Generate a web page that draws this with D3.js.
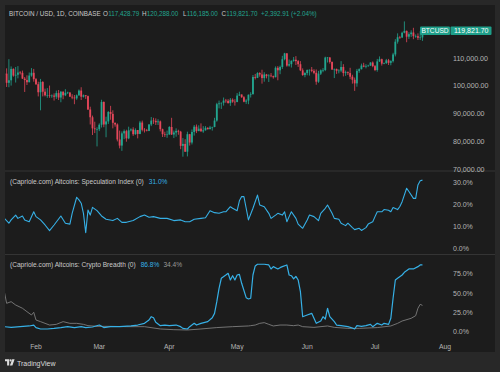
<!DOCTYPE html>
<html><head><meta charset="utf-8">
<script src="https://cdn.jsdelivr.net/npm/d3@7"></script>
<style>
html,body{margin:0;padding:0;background:#282828;}
svg{display:block;font-family:"Liberation Sans",Arial,sans-serif;}
</style>
</head><body>
<svg id="c" width="500" height="372"></svg>
<script>
// ---------- DATA (BTC/USD daily, in thousands USD) ----------
const firstCandleDate = "2025-01-18";
const opens = [
104.1,104.4,101.1,102.0,106.1,103.7,104.0,104.8,104.7,102.6,102.1,101.3,103.7,104.7,
102.4,100.6,97.7,101.4,97.9,96.6,96.6,96.5,96.5,96.1,97.4,95.8,97.9,96.6,97.5,97.6,96.1,95.8,95.5,96.6,98.3,96.1,96.6,96.3,91.5,88.7,84.7,84.4,
84.4,86.0,94.2,86.1,87.2,90.6,89.9,86.7,86.1,80.7,78.5,82.9,83.7,81.1,84.0,84.3,82.6,84.1,82.7,86.8,84.2,84.0,83.8,86.1,87.5,87.4,86.9,87.2,84.4,82.6,82.4,
82.5,85.2,82.5,83.2,83.8,83.5,78.4,79.1,76.3,82.6,79.6,83.4,85.3,83.7,84.6,83.6,84.0,84.9,84.4,85.0,85.2,87.5,93.4,93.7,93.9,94.7,94.6,93.8,95.0,94.3,
94.2,96.5,96.9,95.9,94.3,94.7,96.8,97.0,103.2,102.9,104.6,104.1,102.8,104.1,103.5,103.7,103.5,103.1,106.5,105.6,106.8,109.6,111.7,107.3,107.8,109.0,109.4,108.9,107.8,105.6,103.9,
104.6,105.7,105.8,105.4,104.7,101.5,104.4,105.6,105.7,110.2,110.2,108.6,105.9,106.1,105.4,105.5,106.8,104.6,104.9,104.6,103.3,102.2,100.9,105.4,106.0,107.3,106.9,107.1,107.3,108.4,
107.1,105.7,108.8,109.6,108.0,108.2,109.2,108.3,108.9,111.3,115.9,117.5,117.4,119.1,119.8,117.7,118.6,119.2,117.9,117.9,117.3,117.43];
const highs = [
104.9,106.3,109.6,107.0,106.3,106.8,107.1,105.3,105.5,103.2,103.8,104.8,106.4,106.1,
102.8,101.5,102.5,101.7,99.0,99.2,100.1,96.9,97.3,98.3,98.5,98.1,98.0,98.8,97.9,97.7,97.0,96.7,96.9,98.7,99.5,96.9,96.7,96.5,92.5,89.3,87.1,85.1,
86.5,95.0,94.4,88.9,90.9,92.8,91.2,86.8,86.5,83.9,83.6,84.3,84.2,85.3,84.7,85.1,84.7,84.1,87.4,87.5,84.8,84.5,86.2,88.8,88.5,88.3,88.0,87.5,84.6,83.5,83.9,
85.5,88.5,83.9,84.7,84.2,83.8,81.2,80.8,83.5,82.7,84.3,85.9,86.1,85.8,86.5,85.5,85.5,85.1,85.6,85.3,88.5,93.9,94.7,94.0,95.8,95.3,95.2,95.6,95.5,95.2,
97.4,97.9,96.9,96.3,95.2,96.9,97.7,103.9,104.3,104.9,104.9,105.8,104.9,104.3,104.2,104.6,103.7,107.0,107.1,107.3,110.8,111.9,111.8,109.5,109.2,110.4,110.7,109.3,108.9,106.3,104.9,
105.9,105.9,106.8,106.0,105.9,105.4,105.9,106.4,110.5,110.4,110.4,108.8,106.2,106.2,106.0,108.9,107.8,105.5,105.2,106.5,104.0,103.0,106.1,106.3,108.0,108.3,107.8,107.6,108.5,108.8,
107.5,109.7,110.6,109.8,108.4,109.7,109.7,109.2,111.9,116.8,118.9,118.0,119.5,123.2,119.9,119.3,120.0,120.9,118.5,118.9,119.7,120.288];
const lows = [
102.3,99.6,99.5,100.1,103.3,101.2,102.7,104.1,102.5,97.8,100.3,101.3,103.3,101.5,
100.3,96.2,91.2,96.2,96.2,95.7,95.7,95.7,94.7,95.3,94.9,94.1,95.2,96.3,97.1,96.1,95.2,93.4,95.0,96.4,94.9,95.8,95.3,91.3,86.1,82.3,83.0,78.2,
83.7,85.0,85.1,81.5,86.3,87.8,84.7,85.3,80.0,77.5,76.6,80.8,79.9,80.8,83.6,82.0,82.4,81.1,82.6,83.6,83.2,83.6,83.7,85.5,86.3,85.9,85.9,83.6,81.6,81.6,81.3,
82.4,82.3,81.2,81.7,82.4,77.2,74.5,76.2,74.6,78.5,78.9,82.1,83.0,83.7,83.6,83.1,83.9,84.3,84.4,83.9,85.1,87.1,91.9,91.7,92.9,93.9,93.6,92.8,93.9,92.9,
94.1,96.4,95.7,94.1,93.5,93.4,95.8,96.9,102.3,102.8,103.3,100.8,101.5,102.7,101.4,103.1,102.6,103.1,102.0,104.2,106.1,109.2,106.9,106.9,106.6,108.7,107.5,106.8,105.3,103.6,103.1,
103.8,103.7,104.9,104.2,100.4,101.1,103.9,104.9,105.3,108.4,108.0,105.7,102.8,104.3,104.5,104.9,103.4,103.6,103.9,102.4,100.8,98.2,99.7,104.7,105.9,106.7,106.3,106.9,107.2,106.7,
105.3,105.1,108.6,107.3,107.8,107.9,107.5,107.4,108.4,110.6,115.2,116.9,117.3,118.9,115.7,116.9,117.6,116.8,117.3,116.5,116.5,116.185];
const closes = [
104.4,101.1,102.0,106.1,103.7,104.0,104.8,104.7,102.6,102.1,101.3,103.7,104.7,102.4,
100.6,97.7,101.4,97.9,96.6,96.6,96.5,96.5,96.1,97.4,95.8,97.9,96.6,97.5,97.6,96.1,95.8,95.5,96.6,98.3,96.1,96.6,96.3,91.5,88.7,84.7,84.4,84.4,
86.0,94.2,86.1,87.2,90.6,89.9,86.7,86.1,80.7,78.5,82.9,83.7,81.1,84.0,84.3,82.6,84.1,82.7,86.8,84.2,84.0,83.8,86.1,87.5,87.4,86.9,87.2,84.4,82.6,82.4,82.5,
85.2,82.5,83.2,83.8,83.5,78.4,79.1,76.3,82.6,79.6,83.4,85.3,83.7,84.6,83.6,84.0,84.9,84.4,85.0,85.2,87.5,93.4,93.7,93.9,94.7,94.6,93.8,95.0,94.3,94.2,
96.5,96.9,95.9,94.3,94.7,96.8,97.0,103.2,102.9,104.6,104.1,102.8,104.1,103.5,103.7,103.5,103.1,106.5,105.6,106.8,109.6,111.7,107.3,107.8,109.0,109.4,108.9,107.8,105.6,103.9,104.6,
105.7,105.8,105.4,104.7,101.5,104.4,105.6,105.7,110.2,110.2,108.6,105.9,106.1,105.4,105.5,106.8,104.6,104.9,104.6,103.3,102.2,100.9,105.4,106.0,107.3,106.9,107.1,107.3,108.4,107.1,
105.7,108.8,109.6,108.0,108.2,109.2,108.3,108.9,111.3,115.9,117.5,117.4,119.1,119.8,117.7,118.6,119.2,117.9,117.9,117.3,117.43,119.8217];

// Speculation Index (% ; day-of-year 2025, Jan 1 = 0)
const specDays = [17,19,20,22,23,25,26,28,30,31,33,35,37,39,42,44,46,47,49,50,51,52,53,54,55,56,58,60,62,65,67,69,71,74,77,79,81,83,86,89,92,95,97,99,101,104,106,108,110,112,114,115,117,118,120,121,122,123,124,125,127,129,130,132,134,135,137,138,140,141,142,143,144,146,147,149,151,152,154,156,157,159,160,162,163,165,166,168,169,171,172,174,175,177,178,180,181,182,184,185,187,188,189,191,192,193,195,196,198,199,200,201,202];
const specValues = [13.6,11.4,12.9,15.1,13.6,14.7,12.9,12.1,16.6,14.4,12.9,10.6,8.0,10.6,14.7,11.4,11.0,15.9,23.2,22.0,20.5,15.9,7.1,17.4,15.1,18.6,17.1,14.7,13.2,12.6,13.6,11.8,11.8,12.6,14.4,15.1,14.1,14.4,13.6,13.6,12.6,12.9,12.1,12.1,13.2,13.6,13.9,17.1,16.2,15.9,16.6,16.6,18.9,18.2,17.1,21.6,23.5,23.5,18.2,12.9,18.2,24.2,19.7,18.9,15.9,13.6,15.1,15.9,15.1,16.6,12.1,14.4,16.6,13.6,11.0,9.1,12.9,15.1,14.4,12.6,15.9,18.2,19.7,15.9,13.6,13.2,11.4,10.3,11.4,9.4,8.5,9.1,8.1,9.4,11.0,12.1,14.4,16.6,16.6,17.6,17.3,16.6,18.5,17.6,19.0,21.2,27.3,25.8,22.7,22.7,28.8,30.7,31.0];

// Crypto Breadth (%), main series
const breadthDays = [17,20,24,28,30,31,33,36,39,42,45,48,51,53,56,59,61,64,68,73,76,79,81,82,83,84,86,88,90,93,95,96,98,99,101,102,104,107,109,110,111,112,113,115,116,117,118,119,120,121,122,124,125,126,127,128,129,132,134,135,136,138,139,140,142,143,144,145,146,147,148,149,151,153,154,155,157,158,159,160,161,163,164,166,169,171,172,173,175,177,179,180,181,182,184,185,187,188,189,190,191,193,194,196,198,200,201,202];
const breadthValues = [6.9,6.0,6.9,7.8,9.0,5.7,3.9,3.9,4.7,5.7,6.9,5.7,6.9,5.7,6.5,9.0,5.7,6.9,6.9,7.8,9.0,11.2,15.5,19.8,18.5,12.5,8.2,9.0,8.2,9.0,6.9,4.7,3.9,6.9,11.2,9.0,11.2,13.4,18.5,24.1,39.2,56.5,69.5,73.7,75.9,67.3,72.8,67.3,73.7,74.6,63.0,44.4,42.7,43.6,73.7,85.4,87.6,87.6,86.7,81.5,84.5,81.5,83.2,84.5,86.7,73.7,72.8,68.6,71.9,67.3,52.1,19.8,22.0,24.1,17.7,11.2,14.2,19.8,16.8,30.7,19.8,13.4,9.0,8.2,6.9,5.2,3.9,8.2,7.3,8.2,9.9,6.9,9.0,11.2,9.0,11.2,9.9,17.7,43.6,67.3,69.5,73.7,77.2,81.5,81.5,84.5,86.7,86.8];

// Crypto Breadth (%), second (gray) series
const breadth2Days = [17,18,20,22,25,27,29,30,31,33,35,37,40,43,46,49,52,54,58,64,71,79,86,92,98,104,111,118,125,126,128,130,132,134,136,139,142,145,147,149,154,160,163,169,174,182,188,191,193,197,199,200,201,202];
const breadth2Values = [52.1,37.1,39.2,34.9,30.7,26.3,22.0,25.5,15.5,13.4,11.2,9.0,9.9,13.4,11.2,11.2,9.9,8.2,7.3,7.3,6.9,6.9,3.9,3.0,2.6,3.9,5.7,6.9,7.8,8.2,9.0,11.2,12.1,9.9,7.8,9.0,9.0,8.2,9.0,6.9,6.0,7.8,6.0,4.7,4.7,5.7,7.8,11.2,14.2,17.7,21.1,30.7,35.8,34.4];

const priceTicks = [70, 80, 90, 100, 110];
const specTicks = [0, 10, 20, 30];
const breadthTicks = [0, 25, 50, 75];
const monthTicks = ["2025-02-01","2025-03-01","2025-04-01","2025-05-01","2025-06-01","2025-07-01","2025-08-01"];

const headerTitle = "BITCOIN / USD, 1D, COINBASE";
const headerOHLC = [["O","117,428.79"],["H","120,288.00"],["L","116,185.00"],["C","119,821.70"]];
const headerChange = "+2,392.91 (+2.04%)";
const symbolLabel = "BTCUSD";
const lastPriceLabel = "119,821.70";
const specTitle = "(Capriole.com) Altcoins: Speculation Index (0)";
const specLast = "31.0%";
const breadthTitle = "(Capriole.com) Altcoins: Crypto Breadth (0)";
const breadthLast = "86.8%";
const breadth2Last = "34.4%";

// ---------- DRAWING ----------
const UP = "#22a58f", DOWN = "#e5475a", BLUE = "#36b0e6", GRAY = "#7d7d7d";
const TXT = "#c9c9c9", AX = "#b4b4b4";
const svg = d3.select("#c");
const parse = d3.utcParse("%Y-%m-%d");
const jan1 = parse("2025-01-01");
const dayDate = d => d3.utcDay.offset(jan1, d);

svg.append("rect").attr("width",500).attr("height",372).attr("fill","#282828");
svg.append("rect").attr("x",5).attr("y",5).attr("width",490).attr("height",347).attr("fill","#1c1c1c");

const x = d3.scaleUtc().domain([jan1, parse("2025-08-01")]).range([-34.06, 445.06]);
const yP = d3.scaleLinear().domain([70, 120]).range([169.2, 30.3]);
const yS = d3.scaleLinear().domain([0, 30]).range([248.3, 182.3]);
const yB = d3.scaleLinear().domain([0, 75]).range([332, 274]);

const defs = svg.append("defs");
defs.append("clipPath").attr("id","cp1").append("rect").attr("x",5).attr("y",5).attr("width",448).attr("height",166);
defs.append("clipPath").attr("id","cp2").append("rect").attr("x",5).attr("y",172).attr("width",448).attr("height",82);
defs.append("clipPath").attr("id","cp3").append("rect").attr("x",5).attr("y",255).attr("width",448).attr("height",80);

// pane separators
[171, 254.5].forEach(yy => svg.append("line").attr("x1",5).attr("x2",495).attr("y1",yy).attr("y2",yy)
  .attr("stroke","#343434").attr("stroke-width",1));

// candles
const start = parse(firstCandleDate);
const candles = closes.map((c,i)=>({date:d3.utcDay.offset(start,i), o:opens[i], h:highs[i], l:lows[i], c}));
const g1 = svg.append("g").attr("clip-path","url(#cp1)");
const cg = g1.selectAll("g.c").data(candles).join("g");
cg.append("line")
  .attr("x1",d=>x(d.date)).attr("x2",d=>x(d.date))
  .attr("y1",d=>yP(d.h)).attr("y2",d=>yP(d.l))
  .attr("stroke",d=>d.c>=d.o?UP:DOWN).attr("stroke-width",0.8);
cg.append("rect")
  .attr("x",d=>x(d.date)-0.9).attr("width",1.8)
  .attr("y",d=>yP(Math.max(d.o,d.c)))
  .attr("height",d=>Math.max(0.6, Math.abs(yP(d.o)-yP(d.c))))
  .attr("fill",d=>d.c>=d.o?UP:DOWN);

// price axis labels
const fmtP = d3.format(",.2f");
svg.append("g").selectAll("text").data(priceTicks).join("text")
  .attr("x",453).attr("y",d=>yP(d)).attr("dy","0.35em")
  .attr("font-size",7.1).attr("fill",AX).text(d=>fmtP(d*1000));

// last price label
const yl = yP(closes[closes.length-1]);
svg.append("rect").attr("x",420).attr("y",yl-4.3).attr("width",30).attr("height",8.6).attr("rx",1).attr("fill","#1e9f8a");
svg.append("rect").attr("x",450.5).attr("y",yl-4.3).attr("width",41).attr("height",8.6).attr("rx",1).attr("fill","#1e9f8a");
svg.append("text").attr("x",435).attr("y",yl).attr("dy","0.35em").attr("text-anchor","middle")
  .attr("font-size",6.6).attr("fill","#ffffff").text(symbolLabel);
svg.append("text").attr("x",454).attr("y",yl).attr("dy","0.35em")
  .attr("font-size",7).attr("fill","#ffffff").text(lastPriceLabel);

// header
const hy = 16.3;
svg.append("text").attr("x",9).attr("y",hy).attr("font-size",6.3).attr("fill",TXT).text(headerTitle);
const letterX = [103, 142, 183, 221.5];
headerOHLC.forEach(([k,v],i)=>{
  const t = svg.append("text").attr("x",letterX[i]).attr("y",hy).attr("font-size",6.3).attr("fill",TXT).text(k);
  const w = t.node().getComputedTextLength();
  svg.append("text").attr("x",letterX[i]+w+0.3).attr("y",hy).attr("font-size",6.3).attr("fill",UP).text(v);
});
svg.append("text").attr("x",261).attr("y",hy).attr("font-size",6.3).attr("fill",UP).text(headerChange);

// speculation pane
const g2 = svg.append("g").attr("clip-path","url(#cp2)");
g2.append("path").datum(specDays.map((d,i)=>[dayDate(d), specValues[i]]))
  .attr("fill","none").attr("stroke",BLUE).attr("stroke-width",1.1).attr("stroke-linejoin","round")
  .attr("d", d3.line().x(d=>x(d[0])).y(d=>yS(d[1])));
const fmtPct = d3.format(".1f");
svg.append("g").selectAll("text").data(specTicks).join("text")
  .attr("x",453).attr("y",d=>yS(d)).attr("dy","0.35em")
  .attr("font-size",7).attr("fill",AX).text(d=>fmtPct(d)+"%");
const st = svg.append("text").attr("x",10).attr("y",183.5).attr("font-size",6.6).attr("fill",TXT).text(specTitle);
svg.append("text").attr("x",10+st.node().getComputedTextLength()+5).attr("y",183.5).attr("font-size",6.6).attr("fill",BLUE).text(specLast);

// breadth pane
const g3 = svg.append("g").attr("clip-path","url(#cp3)");
g3.append("path").datum(breadth2Days.map((d,i)=>[dayDate(d), breadth2Values[i]]))
  .attr("fill","none").attr("stroke",GRAY).attr("stroke-width",0.9).attr("stroke-linejoin","round")
  .attr("d", d3.line().x(d=>x(d[0])).y(d=>yB(d[1])));
g3.append("path").datum(breadthDays.map((d,i)=>[dayDate(d), breadthValues[i]]))
  .attr("fill","none").attr("stroke",BLUE).attr("stroke-width",1.2).attr("stroke-linejoin","round")
  .attr("d", d3.line().x(d=>x(d[0])).y(d=>yB(d[1])));
svg.append("g").selectAll("text").data(breadthTicks).join("text")
  .attr("x",453).attr("y",d=>yB(d)).attr("dy","0.35em")
  .attr("font-size",7).attr("fill",AX).text(d=>fmtPct(d)+"%");
const bt = svg.append("text").attr("x",10).attr("y",266.5).attr("font-size",6.6).attr("fill",TXT).text(breadthTitle);
const bx = 10+bt.node().getComputedTextLength()+5;
const bv = svg.append("text").attr("x",bx).attr("y",266.5).attr("font-size",6.6).attr("fill",BLUE).text(breadthLast);
svg.append("text").attr("x",bx+bv.node().getComputedTextLength()+4).attr("y",266.5).attr("font-size",6.6).attr("fill","#9a9a9a").text(breadth2Last);

// time axis
svg.append("g").selectAll("text").data(monthTicks.map(parse)).join("text")
  .attr("x",d=>x(d)).attr("y",347).attr("dy","0.35em").attr("text-anchor","middle")
  .attr("font-size",6.8).attr("fill",AX).text(d3.utcFormat("%b"));

// TradingView logo
const lg = svg.append("g").attr("fill","#dcdcdc");
lg.append("path").attr("d","M5,359.3 H9.2 V365.5 H7.1 V361.3 H5 Z");
lg.append("circle").attr("cx",10.6).attr("cy",360.4).attr("r",1.1);
lg.append("path").attr("d","M12.2,359.3 H14.6 L12.4,365.5 H9.9 Z");
svg.append("text").attr("x",17).attr("y",365.5).attr("font-size",7).attr("fill","#dcdcdc").text("TradingView");
</script>
</body></html>
